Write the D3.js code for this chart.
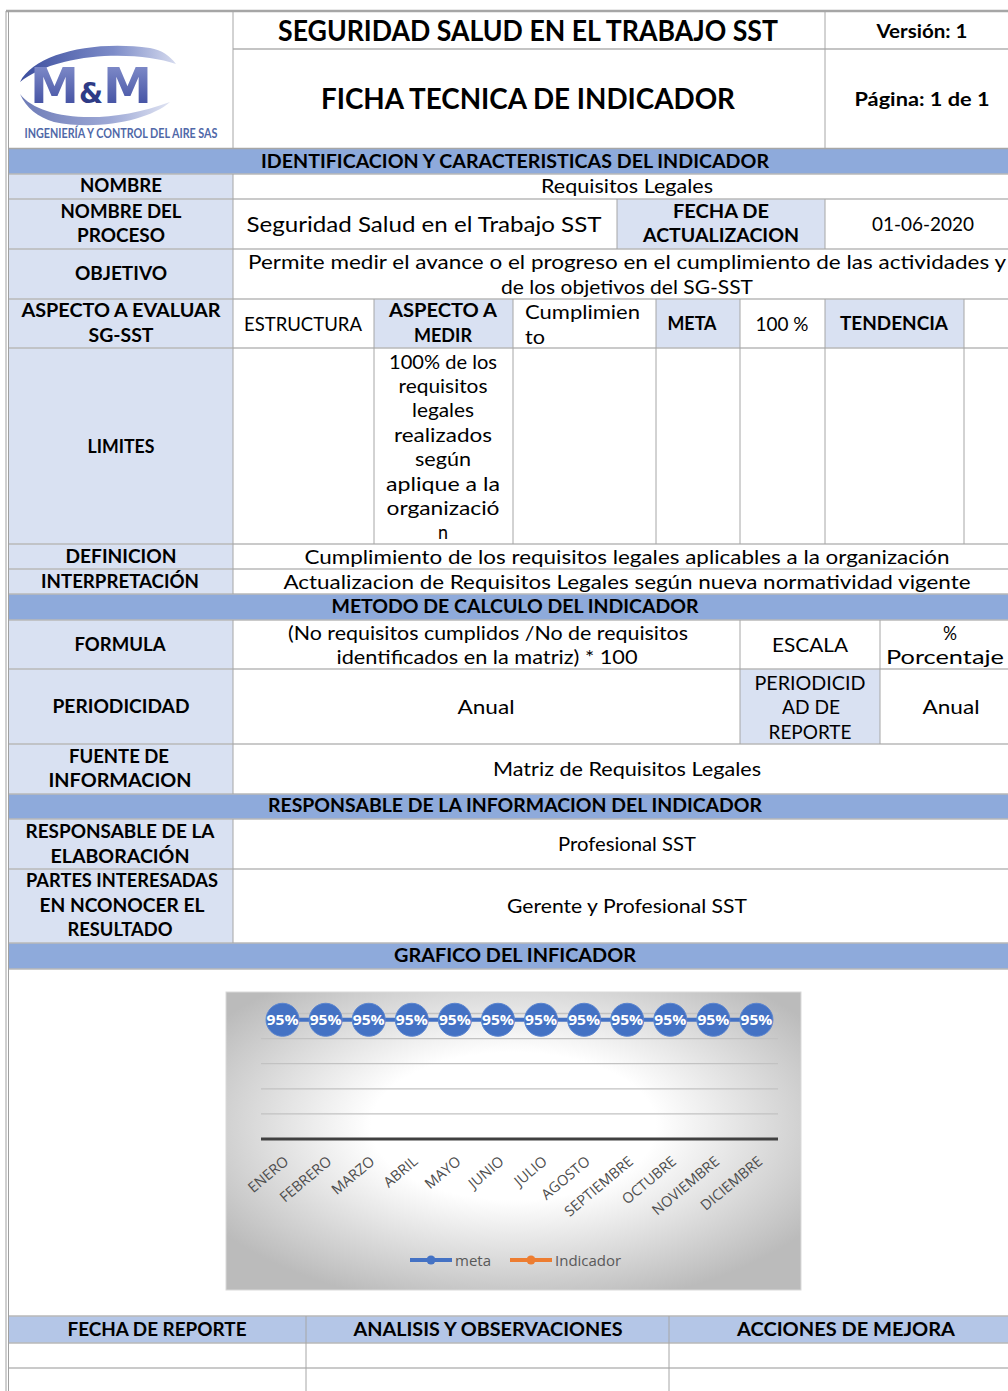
<!DOCTYPE html>
<html><head><meta charset="utf-8">
<script src="https://cdn.jsdelivr.net/npm/d3@7"></script>
<style>body{margin:0;background:#fff}svg{display:block}</style>
</head><body>
<script>
// ---------- DATA ----------
const months = ["ENERO","FEBRERO","MARZO","ABRIL","MAYO","JUNIO","JULIO","AGOSTO","SEPTIEMBRE","OCTUBRE","NOVIEMBRE","DICIEMBRE"];
const meta = [95,95,95,95,95,95,95,95,95,95,95,95];
const indicador = [null,null,null,null,null,null,null,null,null,null,null,null];
const yTicks = [0,20,40,60,80,100];
const seriesNames = ["meta","Indicador"];
const seriesColors = ["#4472c4","#ed7d31"];

// ---------- SETUP ----------
const W = 1008, H = 1391;
const svg = d3.select("body").append("svg").attr("width", W).attr("height", H);
const defs = svg.append("defs");
const FONT = "Lato, 'Open Sans', sans-serif";

const LBL = "#d9e1f2", SEC = "#8eaadb", HDR = "#b4c6e7";

function rect(x1, y1, x2, y2, fill) {
  svg.append("rect").attr("x", x1).attr("y", y1).attr("width", x2 - x1).attr("height", y2 - y1).attr("fill", fill);
}
function hl(y, x1, x2, c, w) {
  svg.append("line").attr("x1", x1).attr("x2", x2).attr("y1", y).attr("y2", y)
    .attr("stroke", c || "#b8b8b8").attr("stroke-width", w || 1.5);
}
function vl(x, y1, y2, c, w) {
  svg.append("line").attr("x1", x).attr("x2", x).attr("y1", y1).attr("y2", y2)
    .attr("stroke", c || "#a6a6a6").attr("stroke-width", w || 1);
}
function T(cx, cy, str, w, size, weight, anchor, fill) {
  const t = svg.append("text").attr("x", cx).attr("y", cy + size * 0.36)
    .attr("font-family", FONT).attr("font-size", size)
    .attr("font-weight", weight || 400).attr("fill", fill || "#000")
    .attr("text-anchor", anchor || "middle").text(str);
  if (w) t.attr("textLength", w).attr("lengthAdjust", "spacingAndGlyphs");
  return t;
}

// ---------- FILLS ----------
rect(8, 149, W, 174, SEC);
rect(8, 594, W, 620, SEC);
rect(8, 794, W, 819, SEC);
rect(8, 943, W, 969, SEC);
rect(8, 174, 233, 594, LBL);
rect(8, 620, 233, 794, LBL);
rect(8, 819, 233, 943, LBL);
rect(617, 199, 825, 249, LBL);
rect(374, 299, 513, 348, LBL);
rect(656, 299, 740, 348, LBL);
rect(825, 299, 964, 348, LBL);
rect(740, 669, 880, 744, LBL);
rect(8, 1316, W, 1343, HDR);

// ---------- LINES ----------
hl(11, 6, W, "#a6a6a6", 2.5);
hl(49, 233, W, "#b0b0b0", 1.5);
hl(148.5, 8, W, "#a6a6a6", 1.5);
[174, 199, 249, 299, 348, 544, 569, 594, 620, 669, 744, 794, 819, 869, 943, 969, 1316, 1343, 1368]
  .forEach(y => hl(y, 8, W));
vl(6, 11, H, "#a0a0a0", 1);
vl(8.5, 11, H, "#a0a0a0", 1);
vl(233, 11, 148); vl(825, 11, 148);
vl(233, 174, 594); vl(233, 620, 794); vl(233, 819, 943);
vl(617, 199, 249); vl(825, 199, 249);
[374, 513, 656, 740, 825, 964].forEach(x => vl(x, 299, 544));
vl(740, 620, 744); vl(880, 620, 744);
vl(306, 1316, H); vl(669, 1316, H);

// ---------- LOGO ----------
const lg1 = defs.append("linearGradient").attr("id", "sw1").attr("x1", "0").attr("x2", "1").attr("y1", "0").attr("y2", "0");
lg1.append("stop").attr("offset", "0").attr("stop-color", "#3c4e9e");
lg1.append("stop").attr("offset", "0.6").attr("stop-color", "#7d8cc8");
lg1.append("stop").attr("offset", "1").attr("stop-color", "#d5daee");
const lg2 = defs.append("linearGradient").attr("id", "mm").attr("x1", "0").attr("x2", "0").attr("y1", "0").attr("y2", "1");
lg2.append("stop").attr("offset", "0").attr("stop-color", "#8a96d0");
lg2.append("stop").attr("offset", "1").attr("stop-color", "#36449a");
svg.append("path").attr("d", "M20,82 C34,54 92,40 150,48 C162,50 170,56 176,64 C150,55 104,52 64,62 C44,67 30,74 20,82 Z").attr("fill", "url(#sw1)");
svg.append("path").attr("d", "M20,94 C40,120 106,126 170,102 C150,120 98,131 54,122 C38,117 26,108 20,94 Z").attr("fill", "url(#sw1)").attr("opacity", 0.75);
svg.append("text").attr("x", 30).attr("y", 103).attr("font-family", "'DejaVu Sans', sans-serif")
  .attr("font-weight", 700).attr("font-size", 50).attr("fill", "url(#mm)")
  .attr("textLength", 122).attr("lengthAdjust", "spacingAndGlyphs")
  .html('M<tspan font-size="28" fill="#2e3b86">&amp;</tspan>M');
T(121, 133, "INGENIERÍA Y CONTROL DEL AIRE SAS", 193, 14, 700, "middle", "#5068a8");

// ---------- TEXT ----------
const cells = [
  [528, 31, "SEGURIDAD SALUD EN EL TRABAJO SST", 500, 28, 700],
  [528, 99, "FICHA TECNICA DE INDICADOR", 414, 28, 700],
  [922, 31, "Versión: 1", 91, 19, 700],
  [922, 99, "Página: 1 de 1", 135, 19, 700],
  [515, 162, "IDENTIFICACION Y CARACTERISTICAS DEL INDICADOR", 508, 18, 700],
  [121, 186, "NOMBRE", 82, 18, 700],
  [627, 186, "Requisitos Legales", 172, 19, 400],
  [121, 212, "NOMBRE DEL", 121, 18, 700],
  [121, 236, "PROCESO", 88, 18, 700],
  [424, 224, "Seguridad Salud en el Trabajo SST", 355, 21, 400],
  [721, 212, "FECHA DE", 96, 18, 700],
  [721, 236, "ACTUALIZACION", 156, 18, 700],
  [923, 224, "01-06-2020", 102, 19, 400],
  [121, 274, "OBJETIVO", 92, 18, 700],
  [627, 262, "Permite medir el avance o el progreso en el cumplimiento de las actividades y", 758, 19, 400],
  [627, 287, "de los objetivos del SG-SST", 252, 19, 400],
  [121, 311, "ASPECTO A EVALUAR", 199, 18, 700],
  [121, 336, "SG-SST", 65, 18, 700],
  [303, 324, "ESTRUCTURA", 118, 19, 400],
  [443, 311, "ASPECTO A", 108, 18, 700],
  [443, 336, "MEDIR", 58, 18, 700],
  [525, 312, "Cumplimien", 115, 19, 400, "start"],
  [525, 337, "to", 20, 19, 400, "start"],
  [692, 324, "META", 49, 18, 700],
  [782, 324, "100 %", 53, 19, 400],
  [894, 324, "TENDENCIA", 108, 18, 700],
  [121, 447, "LIMITES", 67, 18, 700],
  [443, 362, "100% de los", 108, 19, 400],
  [443, 386, "requisitos", 89, 19, 400],
  [443, 410, "legales", 62, 19, 400],
  [443, 435, "realizados", 98, 19, 400],
  [443, 459, "según", 56, 19, 400],
  [443, 484, "aplique a la", 114, 19, 400],
  [443, 508, "organizació", 113, 19, 400],
  [443, 532, "n", 10, 19, 400],
  [121, 557, "DEFINICION", 111, 18, 700],
  [627, 557, "Cumplimiento de los requisitos legales aplicables a la organización", 645, 19, 400],
  [120, 582, "INTERPRETACIÓN", 158, 18, 700],
  [627, 582, "Actualizacion de Requisitos Legales según nueva normatividad vigente", 687, 19, 400],
  [515, 607, "METODO DE CALCULO DEL INDICADOR", 367, 18, 700],
  [120, 645, "FORMULA", 91, 18, 700],
  [488, 633, "(No requisitos cumplidos /No de requisitos", 400, 19, 400],
  [487, 657, "identificados en la matriz) * 100", 301, 19, 400],
  [810, 645, "ESCALA", 76, 19, 400],
  [950, 633, "%", 14, 19, 400],
  [945, 657, "Porcentaje", 118, 19, 400],
  [121, 707, "PERIODICIDAD", 137, 18, 700],
  [486, 707, "Anual", 57, 19, 400],
  [810, 683, "PERIODICID", 111, 19, 400],
  [811, 707, "AD DE", 58, 19, 400],
  [810, 732, "REPORTE", 83, 19, 400],
  [951, 707, "Anual", 57, 19, 400],
  [119, 757, "FUENTE DE", 100, 18, 700],
  [120, 781, "INFORMACION", 143, 18, 700],
  [627, 769, "Matriz de Requisitos Legales", 268, 19, 400],
  [515, 806, "RESPONSABLE DE LA INFORMACION DEL INDICADOR", 494, 18, 700],
  [120, 832, "RESPONSABLE DE LA", 189, 18, 700],
  [120, 857, "ELABORACIÓN", 139, 18, 700],
  [627, 844, "Profesional SST", 138, 19, 400],
  [122, 881, "PARTES INTERESADAS", 192, 18, 700],
  [122, 906, "EN NCONOCER EL", 165, 18, 700],
  [120, 930, "RESULTADO", 105, 18, 700],
  [627, 906, "Gerente y Profesional SST", 240, 19, 400],
  [515, 956, "GRAFICO DEL INFICADOR", 242, 18, 700],
  [157, 1330, "FECHA DE REPORTE", 179, 18, 700],
  [488, 1330, "ANALISIS Y OBSERVACIONES", 269, 18, 700],
  [846, 1330, "ACCIONES DE MEJORA", 218, 18, 700]
];
cells.forEach(c => T(c[0], c[1], c[2], c[3], c[4], c[5], c[6]));

// ---------- CHART ----------
const box = {x: 226, y: 992, w: 575, h: 298};
const rg = defs.append("radialGradient").attr("id", "bg").attr("cx", "0.5").attr("cy", "0.45").attr("r", "0.62");
rg.append("stop").attr("offset", "0").attr("stop-color", "#ffffff");
rg.append("stop").attr("offset", "0.4").attr("stop-color", "#ffffff");
rg.append("stop").attr("offset", "1").attr("stop-color", "#bbbbbb");
svg.append("rect").attr("x", box.x).attr("y", box.y).attr("width", box.w).attr("height", box.h)
  .attr("fill", "url(#bg)").attr("stroke", "#d9d9d9").attr("stroke-width", 1);

const x = d3.scaleBand().domain(months).range([261, 778]);
const y = d3.scaleLinear().domain([0, 100]).range([1139, 1013.5]);
const g = svg.append("g");

// gridlines
g.selectAll(".grid").data(yTicks.filter(v => v > 0)).join("line")
  .attr("x1", 261).attr("x2", 778).attr("y1", d => y(d)).attr("y2", d => y(d))
  .attr("stroke", "#c2c2c2").attr("stroke-width", 1.3);

// x axis
const xAxis = g.append("g").attr("transform", `translate(0,${y(0)})`)
  .call(d3.axisBottom(x).tickSize(0).tickPadding(0));
xAxis.select(".domain").attr("stroke", "#404040").attr("stroke-width", 3.2).attr("d", "M261,0H778");
xAxis.selectAll(".tick text")
  .attr("font-family", "'Open Sans', sans-serif").attr("font-size", 14.5).attr("fill", "#4d4d4d")
  .attr("text-anchor", "end").attr("dy", 0).attr("y", 0)
  .attr("transform", "translate(7,24) rotate(-40)");

// series lines
const line = d3.line().defined(d => d != null).x((d, i) => x(months[i]) + x.bandwidth() / 2).y(d => y(d));
g.append("path").datum(meta).attr("d", line).attr("fill", "none").attr("stroke", seriesColors[0]).attr("stroke-width", 4);
g.append("path").datum(indicador).attr("d", line).attr("fill", "none").attr("stroke", seriesColors[1]).attr("stroke-width", 4);

const pts = g.selectAll(".pt").data(meta.map((v, i) => ({v, m: months[i]}))).join("g")
  .attr("transform", d => `translate(${x(d.m) + x.bandwidth() / 2},${y(d.v)})`);
pts.append("circle").attr("r", 16.5).attr("fill", seriesColors[0]).attr("stroke", "#5b85d0").attr("stroke-width", 1);
pts.append("text").attr("text-anchor", "middle").attr("y", 5.5)
  .attr("font-family", "'Open Sans', sans-serif").attr("font-weight", 700).attr("font-size", 15)
  .attr("fill", "#fff").attr("textLength", 32).attr("lengthAdjust", "spacingAndGlyphs")
  .text(d => d.v + "%");

// legend
const legX = [410, 510];
seriesNames.forEach((n, i) => {
  const lgG = svg.append("g").attr("transform", `translate(${legX[i]},1260)`);
  lgG.append("line").attr("x1", 0).attr("x2", 42).attr("stroke", seriesColors[i]).attr("stroke-width", 4);
  lgG.append("circle").attr("cx", 21).attr("r", 4.5).attr("fill", seriesColors[i]);
  lgG.append("text").attr("x", 45).attr("y", 5.5).attr("font-family", "'Open Sans', sans-serif")
    .attr("font-size", 15).attr("fill", "#595959").text(n);
});
</script>
</body></html>
